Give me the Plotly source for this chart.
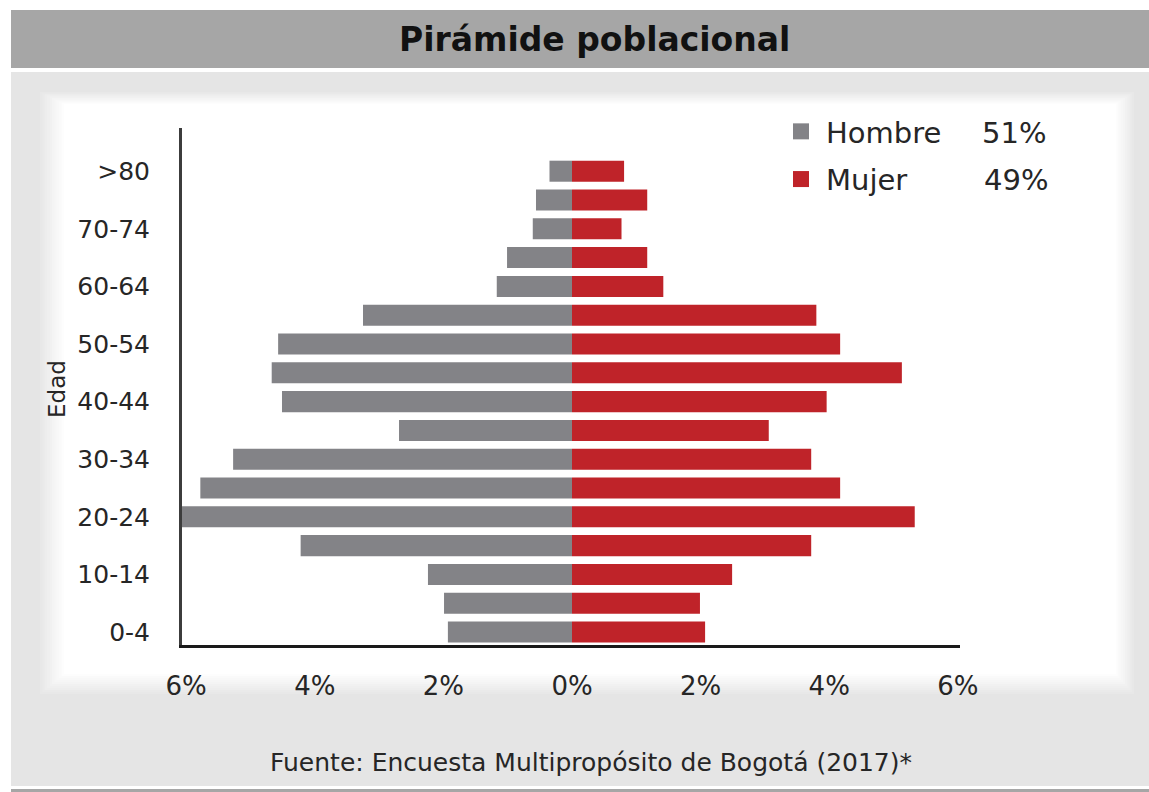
import plotly.graph_objects as go

# ---- data (percent of population) ----
categories = ["0-4", "5-9", "10-14", "15-19", "20-24", "25-29", "30-34", "35-39",
              "40-44", "45-49", "50-54", "55-59", "60-64", "65-69", "70-74", "75-79", ">80"]
hombre = [1.93, 1.99, 2.24, 4.22, 6.10, 5.78, 5.27, 2.69, 4.51, 4.67, 4.57, 3.25,
          1.17, 1.01, 0.61, 0.56, 0.35]
mujer = [2.07, 1.99, 2.49, 3.72, 5.33, 4.17, 3.72, 3.06, 3.96, 5.13, 4.17, 3.80,
         1.42, 1.17, 0.77, 1.17, 0.81]
shown_labels = ["0-4", "10-14", "20-24", "30-34", "40-44", "50-54", "60-64", "70-74", ">80"]
x_tickvals = [-6, -4, -2, 0, 2, 4, 6]
x_ticktext = ["6%", "4%", "2%", "0%", "2%", "4%", "6%"]
legend_names = ["Hombre", "Mujer"]
legend_pcts = ["51%", "49%"]

GRAY = "#838387"
RED = "#bf2329"
FONT = "DejaVu Sans"
TXT = "#262626"

W, H = 1149, 792
L, R, T, B = 182, 960, 128, 645
PW, PH = R - L, B - T


def px(x):
    return (x - L) / PW


def py(y):
    return (B - y) / PH


fig = go.Figure()
fig.add_trace(go.Bar(y=categories, x=[-v for v in hombre], orientation="h",
                     marker=dict(color=GRAY, line=dict(width=0)),
                     name=legend_names[0], showlegend=False))
fig.add_trace(go.Bar(y=categories, x=mujer, orientation="h",
                     marker=dict(color=RED, line=dict(width=0)),
                     name=legend_names[1], showlegend=False))
# legend entries
for nm, col in zip(legend_names, [GRAY, RED]):
    fig.add_trace(go.Scatter(x=[None], y=[None], mode="markers", name=nm,
                             legendgroup=nm,
                             marker=dict(symbol="square", size=16, color=col)))

shapes = []


def rect(x0, y0, x1, y1, color):
    shapes.append(dict(type="rect", xref="paper", yref="paper",
                       x0=px(x0), x1=px(x1), y0=py(y1), y1=py(y0),
                       fillcolor=color, line=dict(width=0), layer="below"))


rect(11, 10, 1160, 68, "#a6a6a6")
rect(11, 72, 1160, 786, "#e5e5e5")
rect(11, 789, 1160, 800, "#a6a6a6")
# soft-edged white card
outer = (40, 92, 1134, 694)
inner = (64, 104, 1116, 674)
N = 10
for i in range(N + 1):
    f = i / N
    x0 = outer[0] + (inner[0] - outer[0]) * f
    y0 = outer[1] + (inner[1] - outer[1]) * f
    x1 = outer[2] + (inner[2] - outer[2]) * f
    y1 = outer[3] + (inner[3] - outer[3]) * f
    g = int(round(0xe8 + (0xff - 0xe8) * f))
    rect(x0, y0, x1, y1, "#%02x%02x%02x" % (g, g, g))

annotations = [
    dict(text="<b>Pirámide poblacional</b>", x=px(594), y=py(40), xref="paper", yref="paper",
         showarrow=False, font=dict(family=FONT, size=33, color="#111111"),
         xanchor="center", yanchor="middle"),
    dict(text="Fuente: Encuesta Multipropósito de Bogotá (2017)*", x=px(591), y=py(762),
         xref="paper", yref="paper", showarrow=False,
         font=dict(family=FONT, size=25, color=TXT), xanchor="center", yanchor="middle"),
    dict(text="Edad", x=px(57), y=py(389), xref="paper", yref="paper", showarrow=False,
         textangle=-90, font=dict(family=FONT, size=23, color=TXT),
         xanchor="center", yanchor="middle"),
    dict(text=legend_pcts[0], x=px(980), y=py(133), xref="paper", yref="paper",
         showarrow=False, font=dict(family=FONT, size=29, color=TXT),
         xanchor="left", yanchor="middle"),
    dict(text=legend_pcts[1], x=px(982), y=py(180), xref="paper", yref="paper",
         showarrow=False, font=dict(family=FONT, size=29, color=TXT),
         xanchor="left", yanchor="middle"),
]

fig.update_layout(
    width=W, height=H,
    margin=dict(l=L, r=W - R, t=T, b=H - B, autoexpand=False),
    paper_bgcolor="white", plot_bgcolor="rgba(0,0,0,0)",
    barmode="relative", bargap=0.27,
    shapes=shapes, annotations=annotations,
    legend=dict(x=px(776), y=py(106), xanchor="left", yanchor="top",
                xref="paper", yref="paper", bgcolor="rgba(0,0,0,0)",
                font=dict(family=FONT, size=29, color=TXT), tracegroupgap=7,
                itemwidth=40, itemclick=False),
    xaxis=dict(range=[-6.065, 6.034], tickvals=x_tickvals, ticktext=x_ticktext,
               showgrid=False, zeroline=False, showline=True, linecolor="#1a1a1a",
               linewidth=3, ticks="", ticklabelstandoff=16,
               tickfont=dict(family=FONT, size=26, color=TXT), fixedrange=True),
    yaxis=dict(type="category", categoryorder="array", categoryarray=categories,
               range=[-0.45, 17.5], tickvals=shown_labels, ticktext=shown_labels,
               showgrid=False, zeroline=False, showline=True, linecolor="#3c3c3c",
               linewidth=3, ticks="", ticklabelstandoff=24,
               tickfont=dict(family=FONT, size=25, color=TXT), fixedrange=True),
    showlegend=True,
)

fig.write_html("out.html", config={"displayModeBar": False},
               post_script="document.body.style.margin='0';")
